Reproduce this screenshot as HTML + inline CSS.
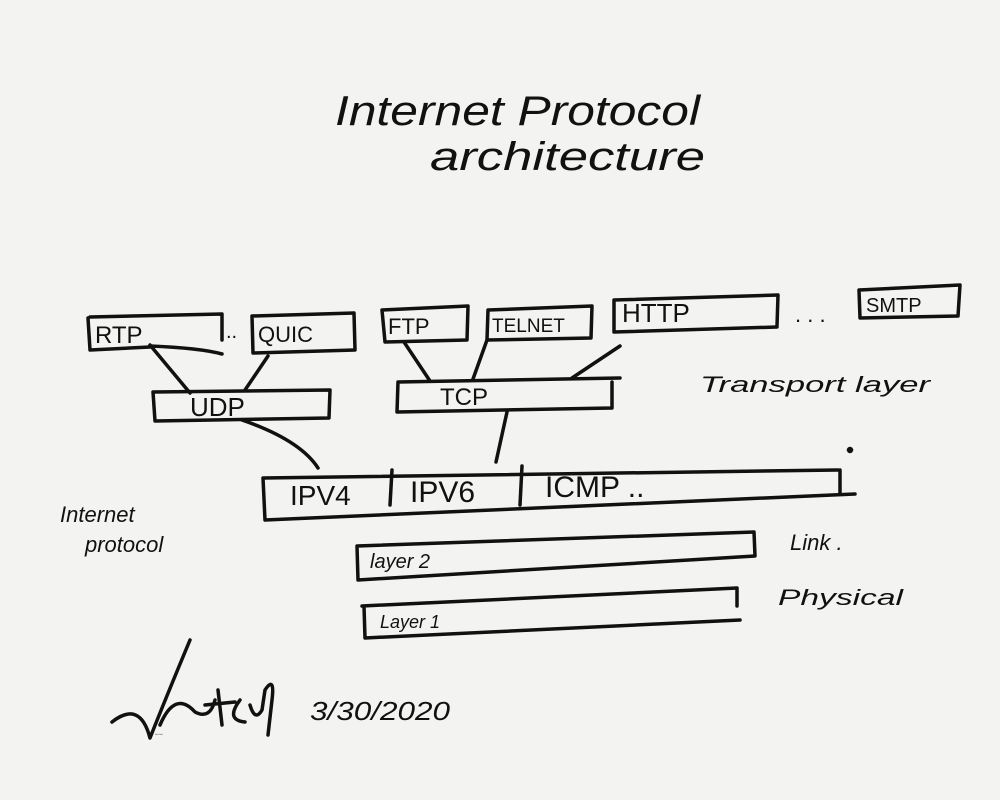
<!DOCTYPE html>
<html><head><meta charset="utf-8"><style>
html,body{margin:0;padding:0;background:#f3f3f2;}
svg{display:block}
text{font-family:"Liberation Sans","DejaVu Sans",sans-serif;fill:#111;}
</style></head><body>
<svg width="1000" height="800" viewBox="0 0 1000 800" xmlns="http://www.w3.org/2000/svg">
<rect width="1000" height="800" fill="#f3f3f2"/>
<g stroke="#111" stroke-width="3.5" fill="none" stroke-linecap="round" stroke-linejoin="round">
<path d="M90 317 L222 314 L222 340 M88 318 L90 350 L150 347"/>
<path d="M150 346 Q200 348 222 354"/>
<path d="M252 316 L354 313 L355 350 L253 353 Z"/>
<path d="M382 310 L468 306 L467 340 L385 342 Z"/>
<path d="M488 310 L592 306 L591 338 L487 340 Z"/>
<path d="M614 300 L778 295 L777 326 M614 300 L614 332 L777 327"/>
<path d="M859 290 L960 285 L958 316 L860 318 Z"/>
<path d="M153 392 L330 390 L329 418 L155 421 Z"/>
<path d="M398 382 L620 378 M398 382 L397 412 L612 408 L612 382"/>
<path d="M150 345 L190 393 M268 356 L245 390 M404 342 L430 381 M487 340 L473 379 M620 346 L572 378 M242 420 Q300 440 318 468 M507 412 L496 462"/>
<path d="M263 478 L838 470 M840 470 L840 494 M263 478 L265 520 L855 494"/>
<path d="M392 470 L390 505 M522 466 L520 505"/>
<circle cx="850" cy="450" r="1.5" fill="#111"/>
<path d="M357 546 L754 532 L755 556 L358 580 Z"/>
<path d="M362 606 L737 588 L737 606 M364 606 L365 638 L740 620"/>
<path d="M112 722 Q140 700 150 738 Q165 700 190 640 M160 725 Q175 690 195 712 Q210 720 215 700 M218 690 L222 725 M205 705 L235 702 M240 700 Q225 720 245 722 M250 705 Q255 722 262 710 L265 690 Q275 675 272 700 L268 735"/>
</g>
<text x="335" y="125" font-size="42" font-style="italic" textLength="365" lengthAdjust="spacingAndGlyphs">Internet Protocol</text>
<text x="430" y="170" font-size="40" font-style="italic" textLength="275" lengthAdjust="spacingAndGlyphs">architecture</text>
<text x="95" y="343" font-size="24">RTP</text>
<text x="226" y="338" font-size="20">..</text>
<text x="258" y="342" font-size="22">QUIC</text>
<text x="388" y="334" font-size="22">FTP</text>
<text x="492" y="332" font-size="19">TELNET</text>
<text x="622" y="322" font-size="26">HTTP</text>
<text x="795" y="322" font-size="22">. . .</text>
<text x="866" y="312" font-size="20">SMTP</text>
<text x="190" y="416" font-size="26">UDP</text>
<text x="440" y="405" font-size="24">TCP</text>
<text x="700" y="392" font-size="22" font-style="italic" textLength="230" lengthAdjust="spacingAndGlyphs">Transport layer</text>
<text x="290" y="505" font-size="28">IPV4</text>
<text x="410" y="502" font-size="30">IPV6</text>
<text x="545" y="497" font-size="30">ICMP ..</text>
<text x="60" y="522" font-size="22" font-style="italic">Internet</text>
<text x="85" y="552" font-size="22" font-style="italic">protocol</text>
<text x="370" y="568" font-size="20" font-style="italic">layer 2</text>
<text x="790" y="550" font-size="22" font-style="italic">Link .</text>
<text x="380" y="628" font-size="18" font-style="italic">Layer 1</text>
<text x="778" y="605" font-size="22" font-style="italic" textLength="125" lengthAdjust="spacingAndGlyphs">Physical</text>
<text x="310" y="720" font-size="26" font-style="italic" textLength="140" lengthAdjust="spacingAndGlyphs">3/30/2020</text>
<text x="155" y="735" font-size="2" fill="#f3f3f2">Vint Cerf</text>
</svg>
</body></html>
